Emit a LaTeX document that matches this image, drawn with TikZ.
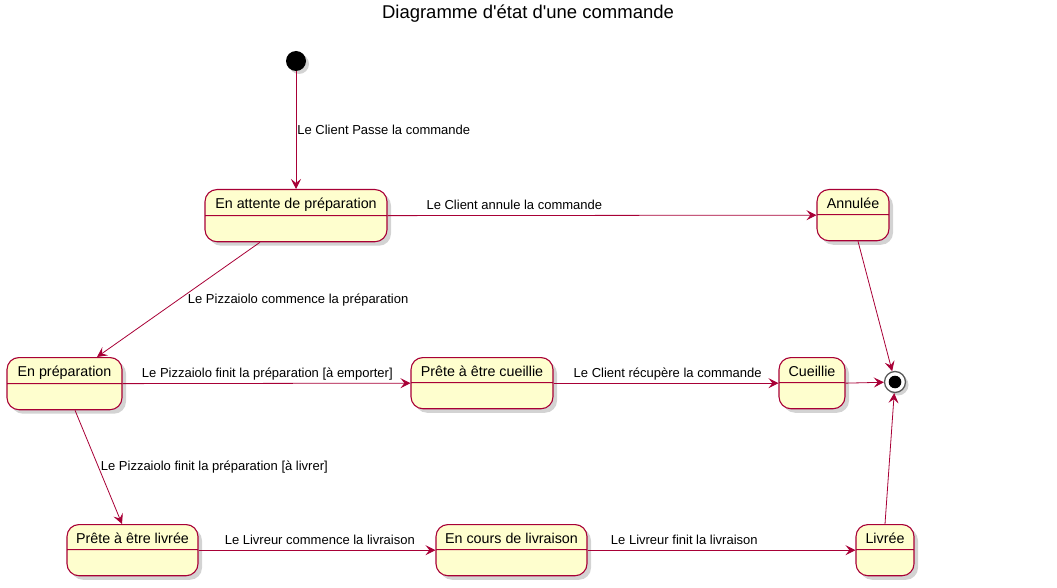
\documentclass[tikz,border=0pt]{standalone}
\usepackage{fontspec}
\setmainfont{Liberation Sans}
\usetikzlibrary{arrows.meta,shapes.multipart,shadows}
\definecolor{umlrouge}{HTML}{A80036}
\definecolor{umlfond}{HTML}{FEFECE}
\tikzset{
	etat/.style={rectangle split,rectangle split parts=2,draw=umlrouge,fill=umlfond,line width=1.1pt,
		rounded corners=12pt,inner xsep=6pt,inner ysep=4pt,anchor=north,
		font=\fontsize{14.3}{17}\selectfont,drop shadow={shadow xshift=4pt,shadow yshift=-4pt,opacity=.35}},
	trans/.style={draw=umlrouge,line width=.8pt,-{Stealth[length=10pt,width=10pt,inset=4pt]}},
	lbl/.style={font=\fontsize{13}{15}\selectfont,inner sep=0pt,text=black}
}
\newcommand{\etattxt}[1]{\rule[-2pt]{0pt}{16pt}#1\nodepart{two}\rule{0pt}{17pt}}
\begin{document}
\begin{tikzpicture}[x=1pt,y=-1pt]
	\useasboundingbox (0,0) rectangle (1057,588);
	\node[font=\fontsize{18.5}{21}\selectfont,inner sep=0pt] (titre) at (528,14) {Diagramme d\textquotesingle état d\textquotesingle une commande};
	
	\node[circle,fill=black,minimum size=20pt,inner sep=0pt,drop shadow={shadow xshift=3pt,shadow yshift=-3pt,opacity=.35}] (debut) at (296,61) {};
	\node[circle,draw=black!65,line width=1.3pt,fill=white,minimum size=21pt,inner sep=0pt,drop shadow={shadow xshift=3pt,shadow yshift=-3pt,opacity=.35}] (fin) at (895,382) {};
	\fill[black] (fin.center) circle (6.3pt);
	
	\node[etat,minimum width=182pt] (attente) at (296,189) {\etattxt{En attente de préparation}};
	\node[etat,minimum width=72pt] (annulee) at (853,189) {\etattxt{Annulée}};
	\node[etat,minimum width=115pt] (enprep) at (64.5,357) {\etattxt{En préparation}};
	\node[etat,minimum width=142pt] (pretecueil) at (482,357) {\etattxt{Prête à être cueillie}};
	\node[etat,minimum width=66pt] (cueillie) at (812,357) {\etattxt{Cueillie}};
	\node[etat,minimum width=131pt] (pretelivr) at (132.5,524) {\etattxt{Prête à être livrée}};
	\node[etat,minimum width=151pt] (encours) at (511.5,524) {\etattxt{En cours de livraison}};
	\node[etat,minimum width=58pt] (livree) at (885,524) {\etattxt{Livrée}};
	
	\draw[trans] (debut) -- (attente.north) node[lbl,pos=.5,anchor=west,xshift=1pt]{Le Client Passe la commande};
	\draw[trans] (attente.east) -- (annulee.west) node[lbl,pos=.09,anchor=base west,yshift=6pt]{Le Client annule la commande};
	\draw[trans] ([xshift=-36pt]attente.south) -- ([xshift=32.5pt]enprep.north) node[lbl,pos=.5,anchor=west,xshift=9pt]{Le Pizzaiolo commence la préparation};
	\draw[trans] ([xshift=5pt]annulee.south) -- (fin);
	\draw[trans] (enprep.east) -- (pretecueil.west) node[lbl,pos=.066,anchor=base west,yshift=6pt]{Le Pizzaiolo finit la préparation [à emporter]};
	\draw[trans] (pretecueil.east) -- (cueillie.west) node[lbl,pos=.088,anchor=base west,yshift=6pt]{Le Client récupère la commande};
	\draw[trans] (cueillie.east) -- (fin);
	\draw[trans] ([xshift=10.5pt]enprep.south) -- ([xshift=-10.5pt]pretelivr.north) node[lbl,pos=.5,anchor=west,xshift=2pt]{Le Pizzaiolo finit la préparation [à livrer]};
	\draw[trans] (pretelivr.east) -- (encours.west) node[lbl,pos=.109,anchor=base west,yshift=6pt]{Le Livreur commence la livraison};
	\draw[trans] (encours.east) -- (livree.west) node[lbl,pos=.086,anchor=base west,yshift=6pt]{Le Livreur finit la livraison};
	\draw[trans] (livree.north) -- (fin);
\end{tikzpicture}
\end{document}
